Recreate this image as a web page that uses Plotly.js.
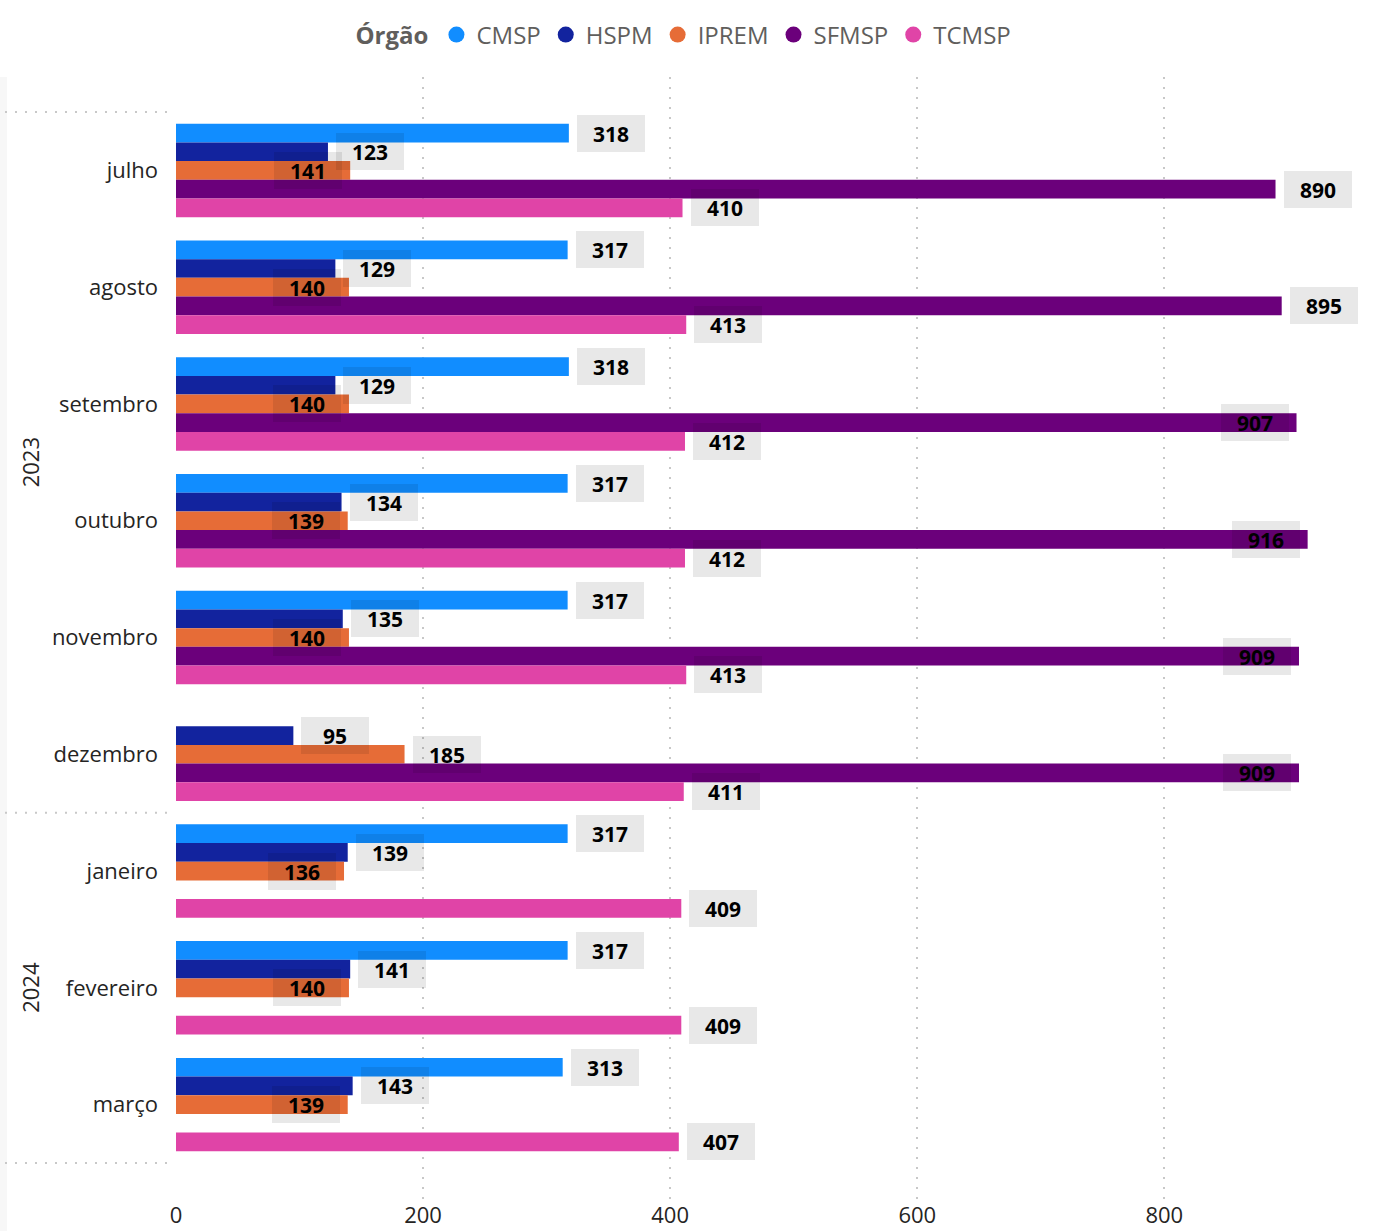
<!DOCTYPE html>
<html>
<head>
<meta charset="utf-8">
<script src="https://cdn.plot.ly/plotly-3.0.1.min.js"></script>
<style>html,body{margin:0;padding:0;background:#fff;}#chart{width:1379px;height:1231px;}</style>
</head>
<body>
<div id="chart"></div>
<script>
// ---- data ----
const months = ["julho","agosto","setembro","outubro","novembro","dezembro","janeiro","fevereiro","março"];
const years = ["2023","2023","2023","2023","2023","2023","2024","2024","2024"];
const seriesNames = ["CMSP","HSPM","IPREM","SFMSP","TCMSP"];
const cmsp  = [318, 317, 318, 317, 317, null, 317, 317, 313];
const hspm  = [123, 129, 129, 134, 135, 95, 139, 141, 143];
const iprem = [141, 140, 140, 139, 140, 185, 136, 140, 139];
const sfmsp = [890, 895, 907, 916, 909, 909, null, null, null];
const tcmsp = [410, 413, 412, 412, 413, 411, 409, 409, 407];
const xTicks = [0, 200, 400, 600, 800];

// ---- style ----
const colors = ["#118DFF","#12239E","#E66C37","#6B007B","#E044A7"];
const W = 1379, H = 1231, ML = 176, MR = 17, MT = 77, MB = 31;
const XMAX = 960;
const Y_RANGE = [8.817, -0.8];
const BARGAP = 0.2;
const font = "Segoe UI, Open Sans, sans-serif";

const values = [cmsp, hspm, iprem, sfmsp, tcmsp];
const idx = months.map((m, i) => i);

const traces = values.map((vals, k) => ({
  type: "bar", orientation: "h",
  x: vals, y: idx, name: seriesNames[k],
  marker: {color: colors[k], line: {width: 0}},
  showlegend: false, hoverinfo: "x+name"
}));
// legend entries with circle markers
seriesNames.forEach((n, k) => traces.push({
  type: "scatter", mode: "markers", x: [null], y: [null], name: n,
  marker: {color: colors[k], size: 20, symbol: "circle"}, showlegend: true
}));

// ---- data labels with simple collision logic (pixel space) ----
const pw = W - ML - MR;
const ppu = pw / XMAX;
const catPx = (H - MT - MB) / Math.abs(Y_RANGE[0] - Y_RANGE[1]);
const slot = (1 - BARGAP) / seriesNames.length;
const BOXW = 68, BOXH = 37, PAD = 8;
const annotations = [];
idx.forEach(i => {
  const placed = [];
  values.forEach((vals, k) => {
    const v = vals[i];
    if (v === null || v === undefined) return;
    const yOff = (k - (seriesNames.length - 1) / 2) * slot;
    const yc = yOff * catPx;
    const end = v * ppu;
    let l = end + PAD, r = l + BOXW;
    let inside = r > pw || placed.some(b => l < b.r && r > b.l && Math.abs(yc - b.yc) < BOXH);
    if (inside) { r = end - PAD; l = r - BOXW; }
    placed.push({l, r, yc});
    annotations.push({
      x: v, y: i + yOff, xref: "x", yref: "y",
      text: String(v), showarrow: false,
      xanchor: inside ? "right" : "left", xshift: inside ? -PAD : PAD,
      yanchor: "middle",
      width: BOXW - 8, height: BOXH - 8, borderpad: 4, borderwidth: 0,
      bgcolor: "rgba(0,0,0,0.09)", align: "center", valign: "middle",
      font: {family: font, size: 21, color: "#000", weight: "bold"}
    });
  });
});

// ---- year hierarchy labels and separators ----
const shapes = [];
const paperX = px => (px - ML) / pw;
const yearGroups = [];
years.forEach((y, i) => {
  const g = yearGroups[yearGroups.length - 1];
  if (g && g.year === y) g.end = i; else yearGroups.push({year: y, start: i, end: i});
});
const sepDash = "2px,8px";
yearGroups.forEach((g, gi) => {
  annotations.push({
    xref: "paper", yref: "y", x: paperX(30), y: (g.start + g.end) / 2,
    text: g.year, textangle: -90, showarrow: false, xanchor: "center", yanchor: "middle",
    font: {family: font, size: 22, color: "#252423"}
  });
  if (gi === 0) shapes.push({type: "line", xref: "paper", yref: "y", x0: paperX(5), x1: paperX(170), y0: g.start - 0.5, y1: g.start - 0.5, line: {color: "#c8c8c8", width: 2, dash: sepDash}});
  shapes.push({type: "line", xref: "paper", yref: "y", x0: paperX(5), x1: paperX(170), y0: g.end + 0.5, y1: g.end + 0.5, line: {color: "#c8c8c8", width: 2, dash: sepDash}});
});
// left edge soft shade
shapes.push({type: "rect", xref: "paper", yref: "paper", x0: paperX(0), x1: paperX(7), y0: -0.03, y1: 1.0, fillcolor: "rgba(0,0,0,0.03)", line: {width: 0}, layer: "below"});

const layout = {
  width: W, height: H,
  margin: {l: ML, r: MR, t: MT, b: MB, pad: 0},
  paper_bgcolor: "#fff", plot_bgcolor: "#fff",
  barmode: "group", bargap: BARGAP, bargroupgap: 0,
  font: {family: font, color: "#252423"},
  xaxis: {
    range: [0, XMAX], tickvals: xTicks, ticktext: xTicks.map(String),
    showgrid: true, gridcolor: "#c8c8c8", gridwidth: 2, griddash: "2px,8px",
    zeroline: false, showline: false, ticks: "",
    tickfont: {family: font, size: 22, color: "#252423"}, fixedrange: true
  },
  yaxis: {
    type: "linear", range: Y_RANGE, tickvals: idx, ticktext: months,
    showgrid: false, zeroline: false, showline: false, ticks: "",
    ticklabelstandoff: 17,
    tickfont: {family: font, size: 22, color: "#252423"}, fixedrange: true
  },
  legend: {
    orientation: "h", x: paperX(685), xanchor: "center", y: 1 + (MT - 35) / (H - MT - MB), yanchor: "middle",
    title: {text: "Órgão", font: {family: font, size: 24, color: "#605E5C", weight: "bold"}},
    font: {family: font, size: 24, color: "#605E5C"},
    itemwidth: 30, tracegroupgap: 0, bgcolor: "rgba(0,0,0,0)"
  },
  annotations, shapes
};

Plotly.newPlot("chart", traces, layout, {displayModeBar: false, staticPlot: true});
</script>
</body>
</html>
